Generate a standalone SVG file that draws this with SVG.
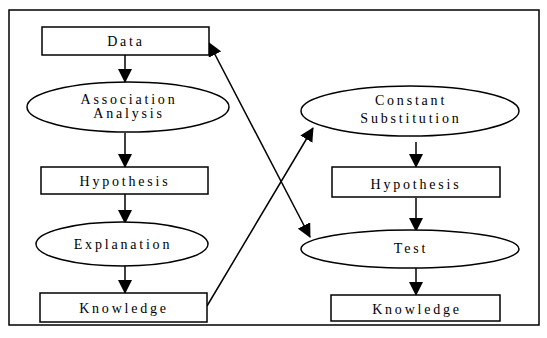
<svg xmlns="http://www.w3.org/2000/svg" width="547" height="338" viewBox="0 0 547 338">
<defs>
<style>
.n{fill:#fff;stroke:#000;stroke-width:1.5}
.t{font-family:"Liberation Serif","Times New Roman",serif;font-size:14px;letter-spacing:2.8px;text-anchor:middle;fill:#000}
.c{fill:none;stroke:#000;stroke-width:1.5}
</style>
<marker id="ah" markerUnits="userSpaceOnUse" markerWidth="14" markerHeight="14" viewBox="0 0 14 14" refX="13" refY="7" orient="auto-start-reverse">
<path d="M0,0 L14,7 L0,14 Z" fill="#000"/>
</marker>
</defs>
<rect x="9" y="10" width="530" height="315" fill="#fff" stroke="#000" stroke-width="1.5"/>
<g id="connectors">
<line class="c" x1="125" y1="55" x2="125" y2="82" marker-end="url(#ah)"/>
<line class="c" x1="125" y1="133" x2="125" y2="167" marker-end="url(#ah)"/>
<line class="c" x1="125" y1="194" x2="125" y2="223" marker-end="url(#ah)"/>
<line class="c" x1="125" y1="266" x2="125" y2="293" marker-end="url(#ah)"/>
<line class="c" x1="416" y1="142" x2="416" y2="167" marker-end="url(#ah)"/>
<line class="c" x1="416" y1="198" x2="416" y2="231" marker-end="url(#ah)"/>
<line class="c" x1="416" y1="268" x2="416" y2="295" marker-end="url(#ah)"/>
<line class="c" x1="207" y1="306" x2="313" y2="128" marker-end="url(#ah)"/>
<line class="c" x1="209" y1="43" x2="310" y2="237" marker-start="url(#ah)" marker-end="url(#ah)"/>
</g>
<g id="data"><rect class="n" x="42" y="27" width="167" height="28"/><text class="t" x="126" y="46">Data</text></g>
<g id="association"><ellipse class="n" cx="128" cy="107" rx="101" ry="25"/><text class="t" x="129" y="104">Association</text><text class="t" x="129" y="118">Analysis</text></g>
<g id="hypothesis1"><rect class="n" x="41" y="167" width="167" height="27"/><text class="t" x="125" y="186">Hypothesis</text></g>
<g id="explanation"><ellipse class="n" cx="122" cy="244" rx="86" ry="22"/><text class="t" x="123" y="249">Explanation</text></g>
<g id="knowledge1"><rect class="n" x="40" y="293" width="167" height="29"/><text class="t" x="124" y="313">Knowledge</text></g>
<g id="constant"><ellipse class="n" cx="410" cy="111" rx="109" ry="25"/><text class="t" x="411" y="105">Constant</text><text class="t" x="411" y="123">Substitution</text></g>
<g id="hypothesis2"><rect class="n" x="332" y="167" width="168" height="30"/><text class="t" x="416" y="189">Hypothesis</text></g>
<g id="test"><ellipse class="n" cx="410" cy="249" rx="109" ry="19"/><text class="t" x="411" y="253">Test</text></g>
<g id="knowledge2"><rect class="n" x="331" y="295" width="169" height="26"/><text class="t" x="417" y="314">Knowledge</text></g>
</svg>
